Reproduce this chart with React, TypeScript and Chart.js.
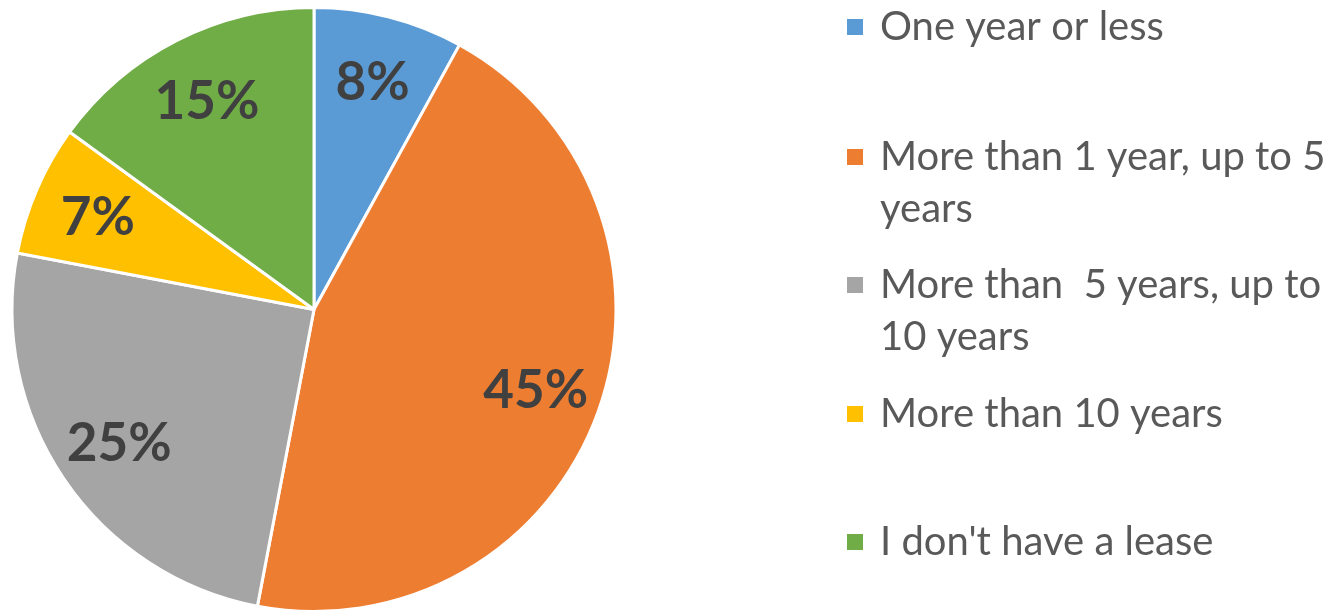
import React, { useEffect, useRef } from "react";
import { Chart, registerables } from "chart.js";

Chart.register(...registerables);

const categories: string[][] = [
  ["One year or less"],
  ["More than 1 year, up to 5", "years"],
  ["More than  5 years, up to", "10 years"],
  ["More than 10 years"],
  ["I don't have a lease"],
];
const values: number[] = [8, 45, 25, 7, 15];
const colors: string[] = ["#5B9BD5", "#ED7D31", "#A5A5A5", "#FFC000", "#70AD47"];

const FONT = "Lato, 'Liberation Sans', sans-serif";

const labelPlugin = {
  id: "sliceLabels",
  afterDatasetsDraw(chart: any) {
    const ctx = chart.ctx;
    const meta = chart.getDatasetMeta(0);
    const total = values.reduce((a, b) => a + b, 0);
    ctx.save();
    ctx.font = `bold 53px ${FONT}`;
    ctx.fillStyle = "#404040";
    ctx.textAlign = "center";
    ctx.textBaseline = "middle";
    meta.data.forEach((arc: any, i: number) => {
      const { x, y, startAngle, endAngle, outerRadius } = arc.getProps(
        ["x", "y", "startAngle", "endAngle", "outerRadius"],
        true
      );
      const mid = (startAngle + endAngle) / 2;
      const r = outerRadius * 0.78;
      const pct = Math.round((values[i] / total) * 100);
      ctx.fillText(`${pct}%`, x + Math.cos(mid) * r, y + Math.sin(mid) * r + 2);
    });
    ctx.restore();
  },
};

const legendPlugin = {
  id: "customLegend",
  afterDraw(chart: any) {
    const ctx = chart.ctx;
    const baselines = [40, 170, 298, 427, 555];
    const lineH = 52;
    ctx.save();
    ctx.font = `40px ${FONT}`;
    ctx.textAlign = "left";
    ctx.textBaseline = "alphabetic";
    categories.forEach((lines, i) => {
      const b = baselines[i];
      ctx.fillStyle = colors[i];
      ctx.fillRect(847, b - 21, 16, 16);
      ctx.fillStyle = "#595959";
      lines.forEach((t, j) => ctx.fillText(t, 880, b + j * lineH));
    });
    ctx.restore();
  },
};

export default function App() {
  const ref = useRef<HTMLCanvasElement>(null);
  useEffect(() => {
    if (!ref.current) return;
    const chart = new Chart(ref.current, {
      type: "pie",
      data: {
        labels: categories.map((c) => c.join(" ")),
        datasets: [
          {
            data: values,
            backgroundColor: colors,
            borderColor: "#ffffff",
            borderWidth: 3,
          },
        ],
      },
      options: {
        animation: false,
        responsive: true,
        maintainAspectRatio: false,
        layout: { padding: { left: 10, top: 6, right: 714, bottom: 0 } },
        plugins: {
          legend: { display: false },
          tooltip: { enabled: false },
        },
      },
      plugins: [labelPlugin, legendPlugin],
    });
    return () => chart.destroy();
  }, []);
  return (
    <div style={{ position: "fixed", left: 0, top: 0, width: 1332, height: 613, background: "#fff" }}>
      <canvas ref={ref} />
    </div>
  );
}
